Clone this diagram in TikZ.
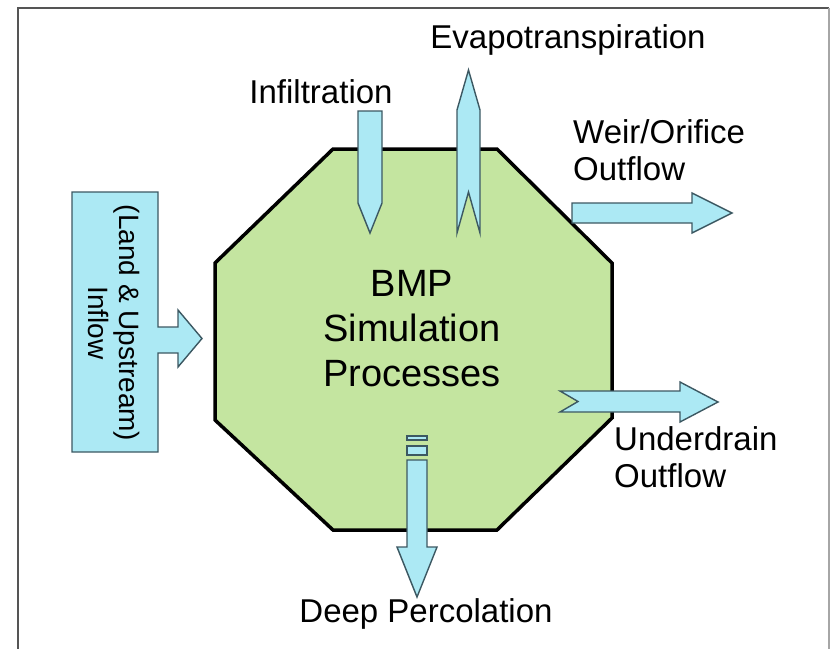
\documentclass[tikz,border=0pt]{standalone}
\usepackage{fontspec}
\setmainfont{Liberation Sans}
\usetikzlibrary{positioning}
\definecolor{bmpgreen}{RGB}{196,229,160}
\definecolor{flowblue}{RGB}{172,233,244}
\definecolor{flowedge}{RGB}{60,88,98}
\definecolor{framegray}{RGB}{85,85,85}
\tikzset{
procbox/.style={
  fill=bmpgreen, draw=black, line width=3.5pt, line join=miter
  },
flow/.style={
  fill=flowblue, draw=flowedge, line width=1.4pt, line join=miter
  },
lbl/.style={
  inner sep=0pt, font=\fontsize{33}{37}\selectfont
  }
}
\begin{document}
\begin{tikzpicture}[x=1pt,y=-1pt]
\useasboundingbox (0,0) rectangle (830,648);

% frame

\draw[framegray, line width=2.5pt] (18,660) -- (18,8) -- (829,8);
\draw[black!35, line width=1.5pt] (829,8) -- (829,660);

% process

\draw[procbox] (333,149) -- (497,149) -- (612,263) -- (612,418)
  -- (497,530) -- (333,530) -- (215,420) -- (215,263) -- cycle;

\node[align=center, font=\fontsize{38}{45}\selectfont](proc) at (412,329)
{
   BMP\\Simulation\\Processes
};

% inflow

\draw[flow] (72,192) -- (158,192) -- (158,327) -- (178,327) -- (178,310)
  -- (202,338.5) -- (178,367) -- (178,353) -- (158,353) -- (158,452)
  -- (72,452) -- cycle;

\node[rotate=-90, align=center, inner sep=0pt,
  font=\fontsize{28}{31}\selectfont](inflow) at (114,323)
{
   (Land \& Upstream)\\Inflow
};

% infiltration

\draw[flow] (358,111) -- (382,111) -- (382,203) -- (370,233) -- (358,203) -- cycle;
\node[lbl, anchor=base](infil) at (321,103) {Infiltration};

% evapotranspiration

\draw[flow] (457,110) -- (468.5,70) -- (480,110) -- (480,233)
  -- (468.5,192) -- (457,233) -- cycle;
\node[lbl, anchor=base](evap) at (568,48) {Evapotranspiration};

% weir / orifice

\draw[flow] (572,203) -- (692,203) -- (692,193) -- (732,213) -- (692,233)
  -- (692,223) -- (572,223) -- cycle;
\node[lbl, align=left, anchor=north west](weir) at (573,119)
{
   Weir/Orifice\\Outflow
};

% underdrain

\draw[flow] (560,391) -- (680,391) -- (680,382) -- (718,402) -- (680,422)
  -- (680,412) -- (560,412) -- (578,401.5) -- cycle;
\node[lbl, align=left, anchor=north west](under) at (614,426)
{
   Underdrain\\Outflow
};

% deep percolation

\draw[flow] (407,436) rectangle (427,440);
\draw[flow] (407,446) rectangle (427,455);
\draw[flow] (407,460) -- (427,460) -- (427,547) -- (437,547) -- (417,597)
  -- (397,547) -- (407,547) -- cycle;
\coordinate (percTip) at (417,597);
\node[lbl, below=1pt of percTip, xshift=9pt](perc) {Deep Percolation};

\end{tikzpicture}
\end{document}
